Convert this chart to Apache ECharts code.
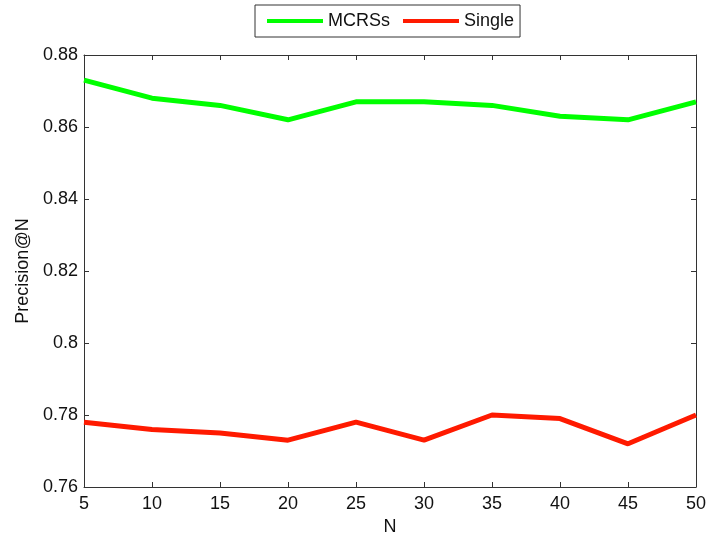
<!DOCTYPE html>
<html><head><meta charset="utf-8">
<script src="https://cdn.jsdelivr.net/npm/echarts@6/dist/echarts.min.js"></script>
<style>html,body{margin:0;padding:0;background:#fff}#c{width:707px;height:535px}</style>
</head><body><div id="c"></div>
<script>
const nValues = [5, 10, 15, 20, 25, 30, 35, 40, 45, 50];
const mcrss = [0.873, 0.868, 0.866, 0.862, 0.867, 0.867, 0.866, 0.863, 0.862, 0.867];
const single = [0.778, 0.776, 0.775, 0.773, 0.778, 0.773, 0.780, 0.779, 0.772, 0.780];
const seriesNames = ['MCRSs', 'Single'];

const chart = echarts.init(document.getElementById('c'));
const font = 'Liberation Sans, Arial, sans-serif';
const axisLine = {show: true, lineStyle: {color: '#333', width: 1}};
const tick = {show: true, inside: true, length: 5, lineStyle: {color: '#333'}};
const lbl = {color: '#111', fontSize: 18, fontFamily: font};
chart.setOption({
  animation: false,
  grid: {left: 84, right: 11, top: 55, bottom: 48, containLabel: false, outerBoundsMode: 'none'},
  legend: {
    top: 5, left: 255,
    data: seriesNames.map(n => ({name: n, icon: 'rect'})),
    itemWidth: 56, itemHeight: 4, itemGap: 13,
    padding: [7, 6, 7, 12],
    borderColor: '#333', borderWidth: 1,
    textStyle: {fontSize: 18, fontFamily: font, color: '#111'}
  },
  xAxis: [
    {type: 'value', min: 5, max: 50, interval: 5, name: 'N', nameLocation: 'middle', nameGap: 29,
     nameTextStyle: {fontSize: 18, fontFamily: font, color: '#111'},
     axisLine, axisTick: tick, axisLabel: Object.assign({margin: 8}, lbl), splitLine: {show: false}},
    {type: 'value', position: 'top', min: 5, max: 50, interval: 5,
     axisLine, axisTick: tick, axisLabel: {show: false}, splitLine: {show: false}}
  ],
  yAxis: [
    {type: 'value', min: 0.76, max: 0.88, interval: 0.02, name: 'Precision@N', nameLocation: 'middle', nameGap: 49,
     nameTextStyle: {fontSize: 18, fontFamily: font, color: '#111'},
     axisLine, axisTick: tick, axisLabel: Object.assign({margin: 6, formatter: v => String(parseFloat(v.toFixed(2)))}, lbl), splitLine: {show: false}},
    {type: 'value', position: 'right', min: 0.76, max: 0.88, interval: 0.02,
     axisLine, axisTick: tick, axisLabel: {show: false}, splitLine: {show: false}}
  ],
  series: [
    {name: seriesNames[0], type: 'line', symbol: 'none', data: nValues.map((n, i) => [n, mcrss[i]]),
     lineStyle: {color: '#00ff00', width: 5}, itemStyle: {color: '#00ff00'}},
    {name: seriesNames[1], type: 'line', symbol: 'none', data: nValues.map((n, i) => [n, single[i]]),
     lineStyle: {color: '#ff1a00', width: 5}, itemStyle: {color: '#ff1a00'}}
  ]
});
</script></body></html>
